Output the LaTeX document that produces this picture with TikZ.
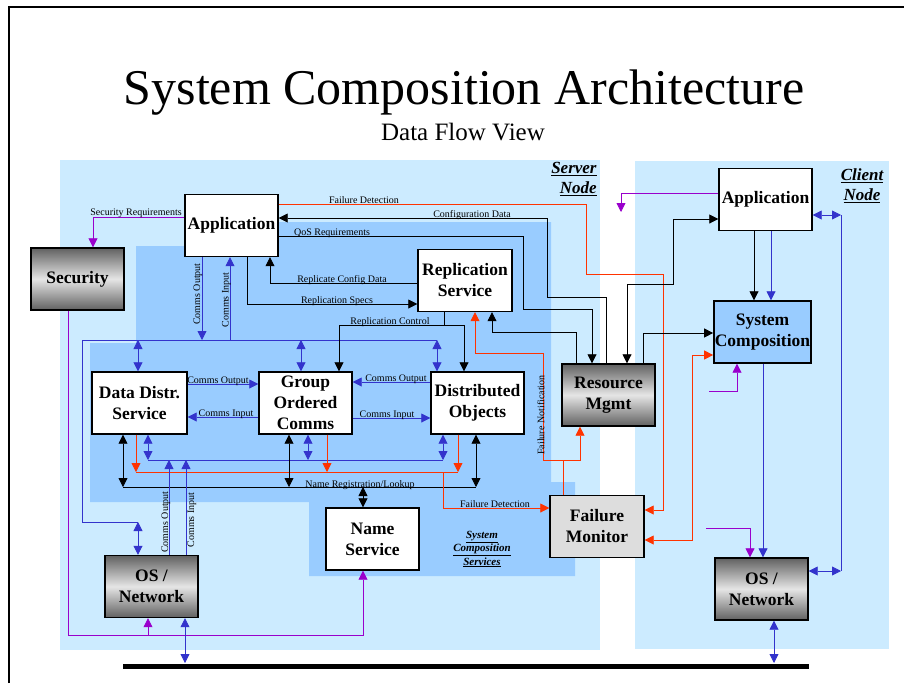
\documentclass[tikz,border=0pt]{standalone}
\usepackage{fontspec}
\setmainfont{Liberation Serif}
\usetikzlibrary{arrows.meta}

\definecolor{nodebg}{HTML}{CCEBFF}
\definecolor{svcbg}{HTML}{99CCFF}
\definecolor{cblue}{HTML}{3333CC}
\definecolor{cred}{HTML}{FF3300}
\definecolor{cpurp}{HTML}{9900CC}
\definecolor{fmgray}{HTML}{DDDDDD}

\tikzset{
  sbox/.style={draw=black,line width=1.4pt,fill=white,minimum width=93pt,minimum height=62pt,
    inner sep=1pt,align=center,font=\fontsize{17.5}{21}\selectfont\bfseries},
  gbox/.style={sbox,top color=black!62,bottom color=black!62,middle color=black!10},
  lbl/.style={font=\fontsize{10}{12}\selectfont,inner sep=0pt,anchor=base},
  vlbl/.style={font=\fontsize{10}{12}\selectfont,inner sep=0pt,rotate=90},
}

\begin{document}
\begin{tikzpicture}[x=1pt,y=-1pt,>={Triangle[length=9pt,width=9pt]},line width=0.8pt]
  \useasboundingbox (0,0) rectangle (904,683);
  \draw[line width=1.5pt] (9,683) -- (9,7) -- (904,7);

  \node[anchor=base,font=\fontsize{50}{60}\selectfont] (title) at (464,104) {System Composition Architecture};
  \node[anchor=base,font=\fontsize{25}{30}\selectfont] (subtitle) at (463,140) {Data Flow View};

  % nodes and services
  \fill[nodebg] (60,160) rectangle (600,650);
  \fill[nodebg] (635,161) rectangle (889,649);
  \fill[svcbg] (136,246) -- (230,246) -- (230,222) -- (551,222) -- (551,482) -- (575,482)
    -- (575,576) -- (309,576) -- (309,502) -- (90,502) -- (90,343) -- (136,343) -- cycle;

  \node[anchor=north east,align=right,inner sep=0pt,font=\fontsize{17}{20}\selectfont\bfseries\itshape]
    (srvname) at (597,162) {\underline{Server}\\\underline{Node}};
  \node[anchor=north,align=center,inner sep=0pt,font=\fontsize{17}{20}\selectfont\bfseries\itshape]
    (cliname) at (862,168) {\underline{Client}\\\underline{Node}};
  \node[align=center,inner sep=0pt,font=\fontsize{11}{13.5}\selectfont\bfseries\itshape]
    (scsname) at (482,549) {\underline{System}\\\underline{Composition}\\\underline{Services}};

  \node[sbox] (appS) at (231.5,225.5) {Application};
  \node[gbox] (sec) at (77.5,279) {Security};
  \node[sbox,minimum width=94pt] (rep) at (465,280.5) {Replication\\Service};
  \node[gbox] (res) at (608.5,395) {Resource\\Mgmt};
  \node[sbox] (appC) at (765.5,199.5) {Application};
  \node[sbox,fill=svcbg] (comp) at (762.5,332) {System\\Composition};
  \node[sbox,minimum width=95pt] (dds) at (139.5,403) {Data Distr.\\Service};
  \node[sbox] (goc) at (305.5,403) {Group\\Ordered\\Comms};
  \node[sbox] (dobj) at (477.5,403) {Distributed\\Objects};
  \node[sbox] (name) at (372.5,539) {Name\\Service};
  \node[gbox] (osS) at (151.5,586.5) {OS /\\Network};
  \node[sbox,fill=fmgray,minimum width=94pt] (fmon) at (597,526.5) {Failure\\Monitor};
  \node[gbox] (osC) at (761.5,589) {OS /\\Network};

  \coordinate (ubus) at (82,340);
  \coordinate (ubusE) at (437,340);
  \coordinate (osup) at (138,522);
  \coordinate (lbus) at (148,460);
  \coordinate (lbusE) at (443,460);
  \coordinate (rbus) at (136,472);
  \coordinate (rbusE) at (458,472);
  \coordinate (nbus) at (123,487);
  \coordinate (nbusE) at (476,487);
  \coordinate (wire) at (123,666);
  \coordinate (wireE) at (809,666);
  \coordinate (wtop) at (123,663);
  \coordinate (rctl) at (444,325);
  \coordinate (fnote) at (543,460);
  \coordinate (clink) at (841,215);
  \coordinate (clinkS) at (841,571);
  \coordinate (pbus) at (68,635);
  \coordinate (pmA) at (621,212);
  \coordinate (pmB) at (709,391);
  \coordinate (pmC) at (706,528);

  \draw[line width=5pt] (wire) -- (wireE);

  % security
  \draw[cpurp,->] (appS.west |- 0,217) -| (sec.north -| 93,0);
  \node[lbl] (lsec) at (136,215) {Security Requirements};
  \draw[cpurp,->] (sec.south -| pbus) -- (pbus) -| (name.south -| 363,0);
  \draw[cpurp,->] (pbus -| 148,0) -- (osS.south -| 148,0);

  % group comms
  \draw[cblue] (ubusE) -- (ubus) |- (osup);
  \draw[cblue,<->] (osup) -- (osS.north -| osup);
  \draw[cblue,->] (appS.south -| 202,0) -- (ubus -| 202,0);
  \draw[cblue,->] (ubus -| 230,0) -- (appS.south -| 230,0);
  \node[vlbl] (lappout) at (198,294) {Comms Output};
  \node[vlbl] (lappin) at (226.5,300) {Comms Input};
  \foreach \n/\x in {dds/138,goc/301,dobj/437}
    \draw[cblue,<->] (ubus -| \x,0) -- (\n.north -| \x,0);

  \draw[cblue,->] (dds.east |- 0,384) -- (goc.west |- 0,384);
  \draw[cblue,->] (goc.west |- 0,417) -- (dds.east |- 0,417);
  \draw[cblue,->] (dobj.west |- 0,382) -- (goc.east |- 0,382);
  \draw[cblue,->] (goc.east |- 0,418) -- (dobj.west |- 0,418);
  \node[lbl] (ldo) at (218,383) {Comms Output};
  \node[lbl] (ldi) at (226,416) {Comms Input};
  \node[lbl] (lgo) at (396,381) {Comms Output};
  \node[lbl] (lgi) at (387,417) {Comms Input};

  \foreach \n/\x in {dds/148,goc/308,dobj/443}
    \draw[cblue,<->] (\n.south -| \x,0) -- (lbus -| \x,0);
  \draw[cblue] (lbus) -- (lbusE);
  \foreach \n/\x in {dds/136,goc/327,dobj/458}
    \draw[cred,->] (\n.south -| \x,0) -- (rbus -| \x,0);
  \draw[cred] (rbus) -- (rbusE);
  \foreach \n/\x in {dds/123,goc/289,dobj/476}
    \draw[<->] (\n.south -| \x,0) -- (nbus -| \x,0);
  \draw (nbus) -- (nbusE);
  \draw[<->] (nbus -| 363,0) -- (name.north -| 363,0);
  \node[lbl] (lnr) at (360,487) {Name Registration/Lookup};

  \draw[cblue,->] (osS.north -| 169,0) -- (lbus -| 169,0);
  \draw[cblue,->] (osS.north -| 186,0) -- (lbus -| 186,0);
  \node[vlbl] (losout) at (166,522) {Comms Output};
  \node[vlbl] (losin) at (192,520) {Comms Input};
  \draw[cblue,<->] (osS.south -| 185,0) -- (wtop -| 185,0);

  \draw[cred,->] (rbus -| 443,0) |- (fmon.west |- 0,508);
  \node[lbl] (lfd) at (495,507) {Failure Detection};

  % replication and resources
  \draw[cred,->] (appS.east |- 0,204) -| (586,274) -| (663,510) -- (fmon.east |- 0,510);
  \node[lbl] (lfdtop) at (364,203) {Failure Detection};
  \draw[->] (res.north -| 606,0) |- (547,297) |- (appS.east |- 0,218);
  \node[lbl] (lcfg) at (472,217) {Configuration Data};
  \draw[->] (appS.east |- 0,236) -| (523,309) -| (res.north -| 592,0);
  \node[lbl] (lqos) at (332,235) {QoS Requirements};
  \draw[->] (rep.west |- 0,283) -| (appS.south -| 270,0);
  \node[lbl] (lrcd) at (342,282) {Replicate Config Data};
  \draw[->] (appS.south -| 247,0) |- (rep.west |- 0,304);
  \node[lbl] (lrs) at (337,303) {Replication Specs};
  \draw (rep.south -| rctl) -- (rctl);
  \draw[->] (rctl) -| (goc.north -| 339,0);
  \draw[->] (rctl) -| (dobj.north -| 464,0);
  \node[lbl] (lrc) at (390,324) {Replication Control};

  \draw[cred] (fmon.north -| 563,0) -- (fnote -| 563,0);
  \draw[cred,->] (fnote) -| (res.south -| 580,0);
  \draw[cred,->] (fnote) |- (475,353) -- (rep.south -| 475,0);
  \node[vlbl] (lfn) at (541,415) {Failure Notification};
  \draw[->] (res.north -| 576,0) |- (492,332) -- (rep.south -| 492,0);

  % client side
  \draw[<->] (res.north -| 627,0) |- (673,284) |- (appC.west |- 0,219);
  \draw[->] (res.north -| 643,0) |- (comp.west |- 0,333);
  \draw[cred,<->] (fmon.east |- 0,540) -| (692,355) -- (comp.west |- 0,355);
  \draw[->] (appC.south -| 754,0) -- (comp.north -| 754,0);
  \draw[cblue,->] (appC.south -| 771,0) -- (comp.north -| 771,0);
  \draw[cblue,->] (comp.south -| 763,0) -- (osC.north -| 763,0);
  \draw[cblue,<->] (appC.east |- clink) -- (clink);
  \draw[cblue] (clink) -- (clinkS);
  \draw[cblue,<->] (osC.east |- clinkS) -- (clinkS);
  \draw[cblue,<->] (osC.south -| 774,0) -- (wtop -| 774,0);
  \draw[cpurp,->] (appC.west |- 0,193) -| (pmA);
  \draw[cpurp,->] (pmB) -| (comp.south -| 737,0);
  \draw[cpurp,->] (pmC) -| (osC.north -| 750,0);
\end{tikzpicture}
\end{document}
